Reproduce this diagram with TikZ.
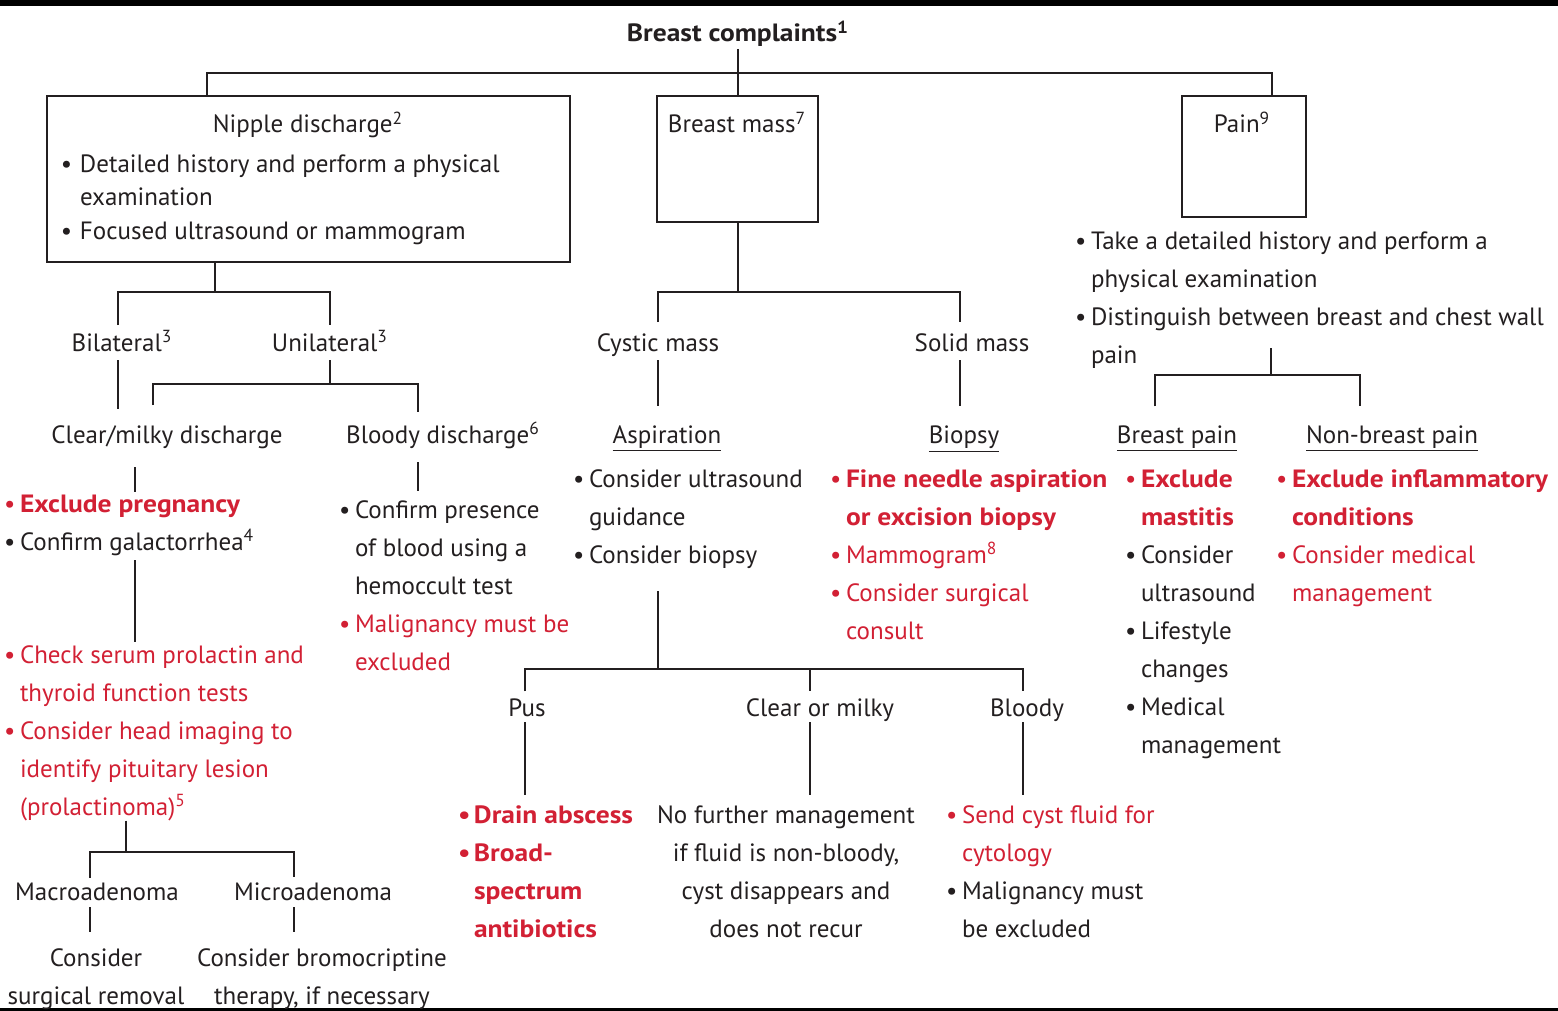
\documentclass[tikz,border=0pt]{standalone}
\usepackage{fontspec}
\setmainfont{PT Sans}[BoldFeatures={FakeStretch=1.1}]
\usepackage{tikz}
\definecolor{alertred}{RGB}{210,32,52}
\definecolor{ink}{RGB}{35,31,32}
\newlength{\bulw}\setlength{\bulw}{8pt}
\newcommand{\bul}[1][\bulw]{\makebox[#1][l]{\textbullet}}
\newcommand{\hng}[1][\bulw]{\hspace*{#1}}
\newcommand{\rd}[1]{{\color{alertred}#1}}

\begin{document}
\begin{tikzpicture}[x=0.5pt,y=-0.5pt,
  lbl/.style={inner sep=0pt,outer sep=0pt,text=ink,font=\fontsize{12.5}{19}\selectfont},
  lst/.style={lbl,align=left,anchor=base west},
  ctr/.style={lbl,anchor=base},
  box/.style={draw=ink,line width=1.1pt,inner sep=0pt,outer sep=0pt,anchor=north west},
  conn/.style={draw=ink,line width=1.1pt}]
\useasboundingbox (0,0) rectangle (1558,1011);
\fill[black] (0,0) rectangle (1558,6);
\draw[black,line width=1.5pt] (0,1009) -- (1558,1009);

% top level (list nodes sit on the baseline of their last line)
\node[ctr,font=\fontsize{12.5}{19}\selectfont\bfseries] (title) at (738,42) {Breast complaints\textsuperscript{1}};
\node[box,minimum width=261.5pt,minimum height=83pt] (nipple) at (47,96) {};
\node[box,minimum width=80.5pt,minimum height=63pt] (massbox) at (657,96) {};
\node[box,minimum width=62pt,minimum height=60.5pt] (painbox) at (1182,96) {};
\node[ctr] (ndt) at (308,133) {Nipple discharge\textsuperscript{2}};
\node[lst,font=\fontsize{12.5}{16.75}\selectfont] (ndl) at (61,239) {\bul[9.5pt]Detailed history and perform a physical\\\hng[9.5pt]examination\\\bul[9.5pt]Focused ultrasound or mammogram};
\node[ctr] (bmt) at (737,133) {Breast mass\textsuperscript{7}};
\node[ctr] (pnt) at (1242,133) {Pain\textsuperscript{9}};
\node[lst] (pnl) at (1075,363) {\bul Take a detailed history and perform a\\\hng physical examination\\\bul Distinguish between breast and chest wall\\\hng pain};

% nipple discharge branch
\node[ctr] (bil) at (122,351) {Bilateral\textsuperscript{3}};
\node[ctr] (uni) at (330,351) {Unilateral\textsuperscript{3}};
\node[ctr] (cmd) at (167,443) {Clear/milky discharge};
\node[ctr] (bd) at (443,443) {Bloody discharge\textsuperscript{6}};
\node[lst] (cl1) at (4,550) {\rd{\bul\textbf{Exclude pregnancy}}\\\bul Confirm galactorrhea\textsuperscript{4}};
\node[lst,text=alertred] (cl2) at (4,815) {\bul Check serum prolactin and\\\hng thyroid function tests\\\bul Consider head imaging to\\\hng identify pituitary lesion\\\hng (prolactinoma)\textsuperscript{5}};
\node[ctr] (mac) at (97,900) {Macroadenoma};
\node[ctr] (mic) at (313,900) {Microadenoma};
\node[ctr,align=center] (mact) at (96,1004) {Consider\\surgical removal};
\node[ctr,align=center] (mict) at (322,1004) {Consider bromocriptine\\therapy, if necessary};
\node[lst] (bl) at (339,670) {\bul Confirm presence\\\hng of blood using a\\\hng hemoccult test\\\rd{\bul Malignancy must be}\\\rd{\hng excluded}};

% breast mass branch
\node[ctr] (cys) at (658,351) {Cystic mass};
\node[ctr] (sol) at (972,351) {Solid mass};
\node[ctr] (asp) at (667,443) {\underline{Aspiration}};
\node[ctr] (bio) at (964,443) {\underline{Biopsy}};
\node[lst] (aspl) at (573,563) {\bul Consider ultrasound\\\hng guidance\\\bul Consider biopsy};
\node[lst,text=alertred] (biol) at (830,639) {\bul\textbf{Fine needle aspiration}\\\hng\textbf{or excision biopsy}\\\bul Mammogram\textsuperscript{8}\\\bul Consider surgical\\\hng consult};
\node[ctr] (pus) at (527,716) {Pus};
\node[ctr] (com) at (820,716) {Clear or milky};
\node[ctr] (bldy) at (1027,716) {Bloody};
\node[lst,text=alertred,font=\fontsize{12.5}{19}\selectfont\bfseries] (pusl) at (458,937) {\bul Drain abscess\\\bul Broad-\\\hng spectrum\\\hng antibiotics};
\node[ctr,align=center] (comt) at (786,937) {No further management\\if fluid is non-bloody,\\cyst disappears and\\does not recur};
\node[lst] (bldl) at (946,937) {\rd{\bul Send cyst fluid for}\\\rd{\hng cytology}\\\bul Malignancy must\\\hng be excluded};

% pain branch
\node[ctr] (bp) at (1177,443) {\underline{Breast pain}};
\node[ctr] (nbp) at (1392,443) {\underline{Non-breast pain}};
\node[lst] (bpl) at (1125,753) {\rd{\bul\textbf{Exclude}}\\\rd{\hng\textbf{mastitis}}\\\bul Consider\\\hng ultrasound\\\bul Lifestyle\\\hng changes\\\bul Medical\\\hng management};
\node[lst,text=alertred] (nbpl) at (1276,601) {\bul\textbf{Exclude inflammatory}\\\hng\textbf{conditions}\\\bul Consider medical\\\hng management};

% junctions
\coordinate (jt1) at (207,73); \coordinate (jt2) at (1272,73);
\coordinate (jn) at (215,292); \coordinate (jna) at (118,292); \coordinate (jnb) at (330,292);
\coordinate (ju) at (330,384); \coordinate (jua) at (153,384); \coordinate (jub) at (418,384);
\coordinate (kc) at (135,470);
\coordinate (jc) at (126,852); \coordinate (jca) at (90,852); \coordinate (jcb) at (294,852);
\coordinate (jm) at (738,292); \coordinate (jma) at (658,292); \coordinate (jmb) at (960,292);
\coordinate (ja) at (658,669); \coordinate (jaa) at (525,669); \coordinate (jab) at (810,669); \coordinate (jac) at (1023,669);
\coordinate (jp0) at (1271,348); \coordinate (jp) at (1271,375); \coordinate (jpa) at (1155,375); \coordinate (jpb) at (1360,375);

% connectors
\draw[conn,shorten <=1pt] (title.south) -- (title.south |- massbox.north);
\draw[conn] (nipple.north -| jt1) |- (jt2) -- (painbox.north -| jt2);

\draw[conn] (nipple.south -| jn) -- (jn);
\draw[conn,shorten <=2.5pt,shorten >=2.5pt] (bil.north -| jna) -- (jna) -- (jnb) -- (uni.north -| jnb);
\draw[conn,shorten <=4.5pt,shorten >=8pt] (bil.south -| jna) -- (cmd.north -| jna);
\draw[conn,shorten <=4.5pt] (uni.south -| ju) -- (ju);
\draw[conn,shorten <=10pt,shorten >=5pt] (cmd.north -| jua) -- (jua) -- (jub) -- (bd.north -| jub);
\draw[conn,shorten <=9.5pt,shorten >=1.5pt] (cmd.south -| kc) -- (cl1.north -| kc);
\draw[conn,shorten <=2.5pt,shorten >=1.5pt] (cl1.south -| kc) -- (cl2.north -| kc);
\draw[conn] (cl2.south -| jc) -- (jc);
\draw[conn,shorten <=2.5pt,shorten >=2.5pt] (mac.north -| jca) -- (jca) -- (jcb) -- (mic.north -| jcb);
\draw[conn,shorten <=3.5pt,shorten >=8pt] (mac.south -| jca) -- (mact.north -| jca);
\draw[conn,shorten <=3.5pt,shorten >=8pt] (mic.south -| jcb) -- (mict.north -| jcb);
\draw[conn,shorten <=7pt,shorten >=4.5pt] (bd.south -| jub) -- (bl.north -| jub);

\draw[conn] (massbox.south -| jm) -- (jm);
\draw[conn,shorten <=5.5pt,shorten >=5.5pt] (cys.north -| jma) -- (jma) -- (jmb) -- (sol.north -| jmb);
\draw[conn,shorten <=2pt,shorten >=9.5pt] (cys.south -| jma) -- (asp.north -| jma);
\draw[conn,shorten <=4.5pt,shorten >=9.5pt] (sol.south -| jmb) -- (bio.north -| jmb);
\draw[conn,shorten <=11.5pt] (aspl.south -| ja) -- (ja);
\draw[conn,shorten <=3.5pt,shorten >=3.5pt] (pus.north -| jaa) -- (jaa) -- (jac) -- (bldy.north -| jac);
\draw[conn,shorten >=3.5pt] (jab) -- (com.north -| jab);
\draw[conn,shorten <=3pt,shorten >=5pt] (pus.south -| jaa) -- (pusl.north -| jaa);
\draw[conn,shorten <=0.5pt,shorten >=5pt] (com.south -| jab) -- (comt.north -| jab);
\draw[conn,shorten <=0.5pt,shorten >=5pt] (bldy.south -| jac) -- (bldl.north -| jac);

\draw[conn] (jp0) -- (jp);
\draw[conn,shorten <=9.5pt,shorten >=9.5pt] (bp.north -| jpa) -- (jpa) -- (jpb) -- (nbp.north -| jpb);
\end{tikzpicture}
\end{document}
